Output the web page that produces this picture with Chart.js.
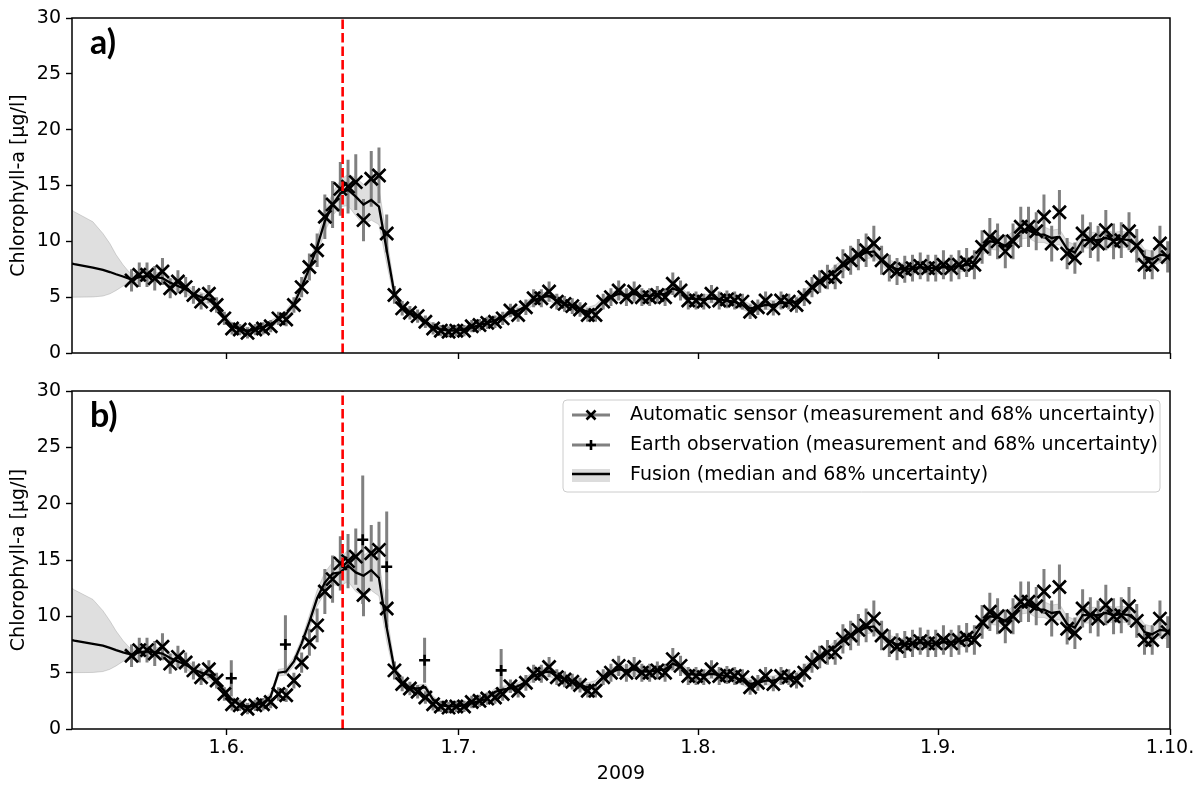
<!DOCTYPE html>
<html><head><meta charset="utf-8">
<script src="https://cdn.jsdelivr.net/npm/chart.js@4/dist/chart.umd.min.js"></script>
<style>
html,body{margin:0;padding:0;background:#fff;width:1204px;height:785px;overflow:hidden}
#wrapA{position:absolute;left:0;top:0;width:1204px;height:372px}
#wrapB{position:absolute;left:0;top:372px;width:1204px;height:413px}
</style></head><body>
<div id="wrapA"><canvas id="chartA" width="1204" height="372"></canvas></div>
<div id="wrapB"><canvas id="chartB" width="1204" height="413"></canvas></div>
<script>
// ---------- DATA (days counted from 1 June 2009) ----------
const sensorStartDay = -12.3;
const sensorValues = [
 6.5,7.0,7.0,6.7,7.3,5.8,6.4,5.9,5.2,4.6,
 5.3,4.3,3.1,2.2,2.1,1.8,2.1,2.2,2.4,3.1,
 3.0,4.3,5.9,7.7,9.2,12.2,13.3,14.7,14.9,15.3,
 11.9,15.6,15.9,10.7,5.2,4.0,3.6,3.3,2.8,2.2,
 2.0,1.9,2.0,2.0,2.4,2.5,2.7,2.8,3.1,3.8,
 3.4,4.1,4.9,4.9,5.5,4.6,4.4,4.2,3.9,3.4,
 3.4,4.6,5.0,5.6,5.0,5.5,5.0,5.0,5.2,5.0,
 6.2,5.6,4.7,4.7,4.6,5.3,4.7,4.8,4.7,4.6,
 3.7,4.1,4.7,4.0,4.7,4.6,4.3,5.0,5.9,6.4,
 6.8,6.8,8.0,8.3,8.8,9.2,9.8,8.3,7.6,7.3,
 7.5,7.6,7.8,7.6,7.6,7.9,7.6,7.9,8.1,7.9,
 9.5,10.4,10.0,9.1,10.0,11.3,11.3,10.9,12.2,9.8,
 12.6,8.9,8.5,10.7,10.1,9.8,11.0,10.0,10.1,10.9,
 9.6,7.9,7.9,9.8,8.6];
const sensorUnc = [
 1.0,1.1,1.1,1.1,1.2,0.9,1.0,0.9,0.8,0.7,
 0.8,0.7,0.6,0.55,0.5,0.5,0.5,0.55,0.55,0.6,
 0.6,0.7,0.9,1.2,1.5,2.0,2.1,2.4,2.4,2.5,
 1.9,2.5,2.5,1.7,0.8,0.65,0.6,0.6,0.55,0.55,
 0.5,0.5,0.5,0.5,0.55,0.55,0.55,0.55,0.6,0.6,
 0.6,0.7,0.8,0.8,0.9,0.7,0.7,0.7,0.65,0.6,
 0.6,0.7,0.8,0.9,0.8,0.9,0.8,0.8,0.8,0.8,
 1.0,0.9,0.8,0.8,0.7,0.8,0.8,0.8,0.8,0.7,
 0.65,0.7,0.8,0.65,0.8,0.7,0.7,0.8,0.9,1.0,
 1.1,1.1,1.3,1.3,1.4,1.5,1.6,1.3,1.2,1.2,
 1.2,1.2,1.2,1.2,1.2,1.3,1.2,1.3,1.3,1.3,
 1.5,1.7,1.6,1.5,1.6,1.8,1.8,1.7,2.0,1.6,
 2.0,1.4,1.4,1.7,1.6,1.6,1.8,1.6,1.6,1.7,
 1.5,1.3,1.3,1.6,1.4];

const fusionLeadDays = [-20.0,-19.7,-17.3,-16.0,-15.1,-14.3,-13.4,-12.8];
const fusionLeadMedianA = [8.0,7.95,7.65,7.45,7.25,7.05,6.85,6.7];
const fusionLeadLowA    = [5.0,5.0,5.02,5.1,5.3,5.6,6.0,6.3];
const fusionLeadHighA   = [12.8,12.65,11.75,10.7,9.8,8.8,7.9,7.4];
const fusionLeadMedianB = [7.9,7.85,7.55,7.4,7.2,7.0,6.8,6.7];
const fusionLeadLowB    = [5.0,5.0,5.02,5.1,5.3,5.6,6.0,6.3];
const fusionLeadHighB   = [12.5,12.35,11.5,10.5,9.6,8.7,7.85,7.4];

const fusionMedianA = [
 6.6,6.8,6.9,6.8,6.7,6.3,6.0,5.7,5.3,5.0,
 4.8,4.1,3.2,2.4,2.1,2.0,2.1,2.3,2.6,3.0,
 3.5,4.4,5.9,7.6,9.5,11.8,13.3,14.3,14.6,14.0,
 13.3,13.7,13.1,9.2,5.3,4.1,3.6,3.3,2.8,2.3,
 2.1,2.0,2.0,2.1,2.3,2.5,2.7,2.9,3.2,3.6,
 3.8,4.2,4.7,5.0,5.1,4.7,4.4,4.2,3.9,3.7,
 3.9,4.6,5.0,5.3,5.2,5.3,5.1,5.1,5.2,5.3,
 5.8,5.5,4.9,4.8,4.8,4.9,4.8,4.7,4.6,4.3,
 4.0,4.1,4.3,4.3,4.5,4.5,4.6,5.2,5.8,6.3,
 6.8,7.3,7.8,8.3,8.7,9.0,9.1,8.4,7.8,7.5,
 7.5,7.6,7.7,7.6,7.6,7.7,7.7,7.8,7.9,8.2,
 9.3,10.0,9.9,9.6,10.2,10.9,11.0,10.6,10.6,10.3,
 10.4,9.3,9.0,10.1,10.1,10.1,10.3,10.1,10.2,10.1,
 9.6,8.6,8.4,8.8,8.7];
const fusionUnc = [
 0.45,0.45,0.45,0.45,0.45,0.4,0.4,0.4,0.4,0.4,
 0.4,0.35,0.35,0.3,0.3,0.3,0.3,0.3,0.3,0.3,
 0.3,0.4,0.4,0.6,0.7,0.9,1.0,1.2,1.4,1.7,
 1.8,1.8,1.6,1.2,0.5,0.3,0.3,0.3,0.3,0.3,
 0.3,0.3,0.3,0.3,0.3,0.3,0.3,0.3,0.3,0.3,
 0.3,0.4,0.4,0.4,0.4,0.4,0.4,0.4,0.4,0.4,
 0.4,0.4,0.4,0.4,0.4,0.4,0.4,0.4,0.4,0.4,
 0.4,0.4,0.4,0.4,0.4,0.4,0.4,0.4,0.4,0.4,
 0.4,0.4,0.4,0.4,0.4,0.4,0.4,0.4,0.4,0.4,
 0.4,0.55,0.55,0.55,0.55,0.55,0.55,0.55,0.55,0.55,
 0.55,0.55,0.55,0.55,0.55,0.55,0.55,0.55,0.55,0.55,
 0.55,0.7,0.7,0.7,0.7,0.7,0.7,0.7,0.7,0.7,
 0.7,0.7,0.7,0.7,0.7,0.7,0.7,0.7,0.7,0.7,
 0.7,0.7,0.7,0.7,0.7];
// panel b fusion differs where Earth observations enter: [sensor index, median]
const fusionBChanges = [[12,3.4],[13,2.6],[18,2.9],[19,5.0],[20,5.1],[21,6.0],[22,7.6],[23,9.5],
 [24,11.6],[25,13.0],[26,13.8],[27,13.9],[28,14.5],[29,13.9],[30,13.6],[31,14.1],[32,13.4],
 [33,9.0],[34,5.3],[37,3.6],[38,3.7],[39,2.6],[47,3.3],[48,3.5]];

const eoDays   = [0.6, 7.6, 17.6, 20.7, 25.6, 35.5];
const eoValues = [4.5, 7.5, 16.8, 14.4, 6.1, 5.2];
const eoUnc    = [1.6, 2.6, 5.7, 4.9, 2.0, 1.9];

const xTickDays   = [0, 30, 61, 92, 122];
const xTickLabels = ['1.6.', '1.7.', '1.8.', '1.9.', '1.10.'];
const eventDay = 15;
const legendLabels = ['Automatic sensor (measurement and 68% uncertainty)',
  'Earth observation (measurement and 68% uncertainty)',
  'Fusion (median and 68% uncertainty)'];

// ---------- RENDERING ----------
Chart.defaults.font.family = "'DejaVu Sans', sans-serif";
Chart.defaults.font.size = 19;
Chart.defaults.color = '#000';

const pts = (xs, ys) => xs.map((x, i) => ({x: x, y: ys[i]}));
const sensorDays = sensorValues.map((_, i) => sensorStartDay + i);

const errorBarPlugin = {
  id: 'errbars',
  beforeDatasetDraw(chart, args) {
    if (chart.data.datasets[args.index].label !== 'fusion') return;
    const {ctx, chartArea: ca, scales: {x, y}} = chart;
    ctx.save();
    ctx.beginPath(); ctx.rect(ca.left, ca.top, ca.right - ca.left, ca.bottom - ca.top); ctx.clip();
    ctx.strokeStyle = '#808080'; ctx.lineWidth = 3; ctx.lineCap = 'butt';
    chart.data.datasets.forEach(ds => {
      if (!ds.errors) return;
      ctx.beginPath();
      ds.data.forEach((p, i) => {
        const px = x.getPixelForValue(p.x);
        ctx.moveTo(px, y.getPixelForValue(p.y - ds.errors[i]));
        ctx.lineTo(px, y.getPixelForValue(p.y + ds.errors[i]));
      });
      ctx.stroke();
    });
    ctx.restore();
  }
};

const decoPlugin = {
  id: 'deco',
  afterDatasetsDraw(chart) {
    const {ctx, chartArea: ca, scales: {x}} = chart;
    const px = x.getPixelForValue(eventDay);
    ctx.save();
    ctx.strokeStyle = '#ff0000'; ctx.lineWidth = 2.6; ctx.setLineDash([9.5, 4]);
    ctx.beginPath(); ctx.moveTo(px, ca.bottom); ctx.lineTo(px, ca.top); ctx.stroke();
    ctx.restore();
  },
  afterDraw(chart, args, opts) {
    const {ctx, chartArea: ca} = chart;
    ctx.save();
    ctx.strokeStyle = '#000'; ctx.lineWidth = 1.5;
    ctx.strokeRect(ca.left, ca.top, ca.right - ca.left, ca.bottom - ca.top);
    ctx.fillStyle = '#000';
    ctx.font = "bold 34px Lato, 'Open Sans', sans-serif";
    ctx.textBaseline = 'alphabetic';
    ctx.fillText(opts.panel, ca.left + 18, ca.top + 36);
    if (opts.legend) {
      const bw = 597, bh = 92;
      const bx = ca.right - 10 - bw, by = ca.top + 9;
      ctx.beginPath();
      ctx.roundRect(bx, by, bw, bh, 4);
      ctx.fillStyle = 'rgba(255,255,255,0.8)'; ctx.fill();
      ctx.strokeStyle = '#cccccc'; ctx.lineWidth = 1; ctx.stroke();
      const rows = [by + 15, by + 45, by + 75];
      const hx0 = bx + 9, hx1 = bx + 47, hc = (hx0 + hx1) / 2;
      ctx.strokeStyle = '#808080'; ctx.lineWidth = 3;
      ctx.beginPath(); ctx.moveTo(hx0, rows[0]); ctx.lineTo(hx1, rows[0]); ctx.stroke();
      ctx.beginPath(); ctx.moveTo(hx0, rows[1]); ctx.lineTo(hx1, rows[1]); ctx.stroke();
      ctx.strokeStyle = '#000'; ctx.lineWidth = 2.6;
      ctx.beginPath();
      ctx.moveTo(hc - 4.5, rows[0] - 4.5); ctx.lineTo(hc + 4.5, rows[0] + 4.5);
      ctx.moveTo(hc - 4.5, rows[0] + 4.5); ctx.lineTo(hc + 4.5, rows[0] - 4.5);
      ctx.moveTo(hc - 5, rows[1]); ctx.lineTo(hc + 5, rows[1]);
      ctx.moveTo(hc, rows[1] - 5); ctx.lineTo(hc, rows[1] + 5);
      ctx.stroke();
      ctx.fillStyle = 'rgba(128,128,128,0.28)';
      ctx.fillRect(hx0, rows[2] - 6, hx1 - hx0, 13);
      ctx.strokeStyle = '#000'; ctx.lineWidth = 2.4;
      ctx.beginPath(); ctx.moveTo(hx0, rows[2] - 1); ctx.lineTo(hx1, rows[2] - 1); ctx.stroke();
      ctx.fillStyle = '#000';
      ctx.font = "19px 'DejaVu Sans', sans-serif";
      ctx.textBaseline = 'middle';
      legendLabels.forEach((t, i) => ctx.fillText(t, bx + 67, rows[i]));
    }
    ctx.restore();
  }
};

function makeChart(id, cfg) {
  const fDays = fusionLeadDays.concat(sensorDays);
  const fMed = cfg.leadMed.concat(cfg.fusion);
  const fLo = cfg.leadLow.concat(cfg.fusion.map((v, i) => v - fusionUnc[i]));
  const fHi = cfg.leadHigh.concat(cfg.fusion.map((v, i) => v + fusionUnc[i]));
  const datasets = [
    {label: 'lo', data: pts(fDays, fLo), borderColor: 'rgba(128,128,128,0.3)', borderWidth: 1,
     pointRadius: 0, fill: false, order: 6},
    {label: 'hi', data: pts(fDays, fHi), borderColor: 'rgba(128,128,128,0.3)', borderWidth: 1,
     pointRadius: 0, fill: '-1', backgroundColor: 'rgba(128,128,128,0.25)', order: 5},
    {label: 'fusion', data: pts(fDays, fMed), borderColor: '#000', borderWidth: 2.3,
     pointRadius: 0, fill: false, order: 4},
    {label: 'sensor', data: pts(sensorDays, sensorValues), showLine: false, pointStyle: 'crossRot',
     pointRadius: 9.2, pointBorderWidth: 2.7, pointBorderColor: '#000', pointBackgroundColor: '#000',
     order: 2, errors: sensorUnc}
  ];
  if (cfg.eo) {
    datasets.push({label: 'eo', data: pts(eoDays, eoValues), showLine: false, pointStyle: 'cross',
      pointRadius: 5.5, pointBorderWidth: 2.6, pointBorderColor: '#000', order: 1, errors: eoUnc});
  }
  return new Chart(document.getElementById(id), {
    type: 'line',
    data: {datasets},
    plugins: [errorBarPlugin, decoPlugin],
    options: {
      responsive: false, animation: false,
      layout: {padding: {left: 0, right: 34, top: cfg.padTop, bottom: 0}},
      plugins: {legend: {display: false}, tooltip: {enabled: false},
                deco: {panel: cfg.panel, legend: cfg.legend}},
      elements: {line: {tension: 0}},
      scales: {
        x: {type: 'linear', min: -20.0, max: 122,
            afterBuildTicks: s => { s.ticks = xTickDays.map(v => ({value: v})); },
            afterFit: s => { s.height = cfg.xHeight; },
            grid: {drawOnChartArea: false, drawTicks: true, tickLength: 6, tickColor: '#000', tickWidth: 1.4},
            border: {display: false},
            ticks: {display: cfg.xLabels, padding: 2, autoSkip: false, maxRotation: 0,
                    callback: v => xTickLabels[xTickDays.indexOf(v)]},
            title: {display: cfg.xLabels, text: '2009', padding: {top: 0, bottom: 0}}},
        y: {min: 0, max: 30,
            afterFit: s => { s.width = 72; },
            grid: {drawOnChartArea: false, drawTicks: true, tickLength: 6, tickColor: '#000', tickWidth: 1.4},
            border: {display: false},
            ticks: {stepSize: 5, padding: 5},
            title: {display: true, text: 'Chlorophyll-a [µg/l]', padding: {top: 8, bottom: 0}}}
      }
    }
  });
}

const fusionMedianB = fusionMedianA.slice();
fusionBChanges.forEach(([i, v]) => { fusionMedianB[i] = v; });

makeChart('chartA', {panel: 'a)', legend: false, eo: false, xLabels: false, xHeight: 19, padTop: 18,
  fusion: fusionMedianA, leadMed: fusionLeadMedianA, leadLow: fusionLeadLowA, leadHigh: fusionLeadHighA});
makeChart('chartB', {panel: 'b)', legend: true, eo: true, xLabels: true, xHeight: 56, padTop: 19,
  fusion: fusionMedianB, leadMed: fusionLeadMedianB, leadLow: fusionLeadLowB, leadHigh: fusionLeadHighB});
</script>
</body></html>
